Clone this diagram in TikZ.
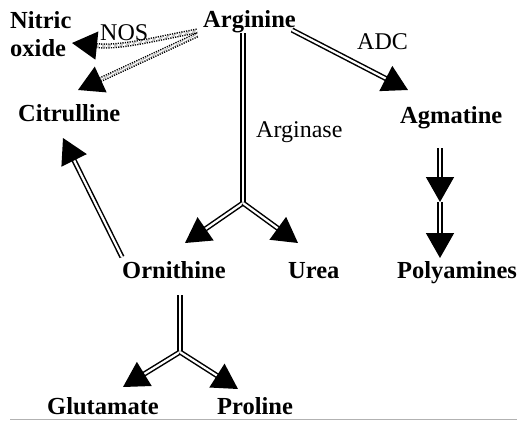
\documentclass[tikz,border=0pt]{standalone}
\usepackage{fontspec}
\setmainfont{Liberation Serif}
\usetikzlibrary{arrows.meta}
\begin{document}
\begin{tikzpicture}[x=1pt,y=-1pt,
  lbl/.style={anchor=base west,inner sep=0pt,font=\fontsize{24.5}{28}\selectfont\bfseries},
  enz/.style={anchor=base west,inner sep=0pt,font=\fontsize{24}{28}\selectfont},
  dbl/.style={draw=black,double=white,line width=1.5pt,double distance=2.2pt},
  dotdbl/.style={dbl,dash pattern=on 1.2pt off 1.2pt},
  tip/.style={-{Triangle[length=25pt,width=28pt]}}]
\useasboundingbox (0,0) rectangle (517,421);
% labels
\node[lbl,align=left] (no) at (10,56) {Nitric\\oxide};
\node[enz] (nos) at (100,40) {NOS};
\node[lbl] (arg) at (203,27) {Arginine};
\node[enz] (adc) at (357,49) {ADC};
\node[enz] (ase) at (256,137) {Arginase};
\node[lbl] (cit) at (18,121) {Citrulline};
\node[lbl] (agm) at (400,123) {Agmatine};
\node[lbl] (orn) at (122,278) {Ornithine};
\node[lbl] (urea) at (288,278) {Urea};
\node[lbl] (poly) at (397,278) {Polyamines};
\node[lbl] (glu) at (47,414) {Glutamate};
\node[lbl] (pro) at (217,414) {Proline};
% connector points
\coordinate (argA) at (197,31);
\coordinate (argB) at (197,35);
\coordinate (argC) at (292,30);
\coordinate (argD) at (243,33);
\coordinate (noT) at (72,43);
\coordinate (citT) at (78,90);
\coordinate (citU) at (63,138);
\coordinate (agmT) at (408,90);
\coordinate (brA) at (243,203);
\coordinate (ornT) at (185,243);
\coordinate (ureaT) at (298,243);
\coordinate (ornA) at (122,257);
\coordinate (ornB) at (180,295);
\coordinate (brB) at (180,352);
\coordinate (gluT) at (123,387);
\coordinate (proT) at (238,389);
\coordinate (agmA) at (440,148);
\coordinate (midP) at (440,202);
\coordinate (polyT) at (440,258);
% connectors
\draw[dotdbl,tip] (argA) .. controls (150,40) and (120,48) .. (noT);
\draw[dotdbl,tip] (argB) -- (citT);
\draw[dbl,tip] (argC) -- (agmT);
\draw[dbl] (argD) -- (brA);
\draw[dbl,tip] (brA) -- (ornT);
\draw[dbl,tip] (brA) -- (ureaT);
\draw[dbl,tip] (ornA) -- (citU);
\draw[dbl] (ornB) -- (brB);
\draw[dbl,tip] (brB) -- (gluT);
\draw[dbl,tip] (brB) -- (proT);
\draw[dbl,tip] (agmA) -- (midP);
\draw[dbl,tip] (midP) -- (polyT);
% rule
\draw[gray!60,line width=1pt] (10,419) -- (517,419);
\end{tikzpicture}
\end{document}
